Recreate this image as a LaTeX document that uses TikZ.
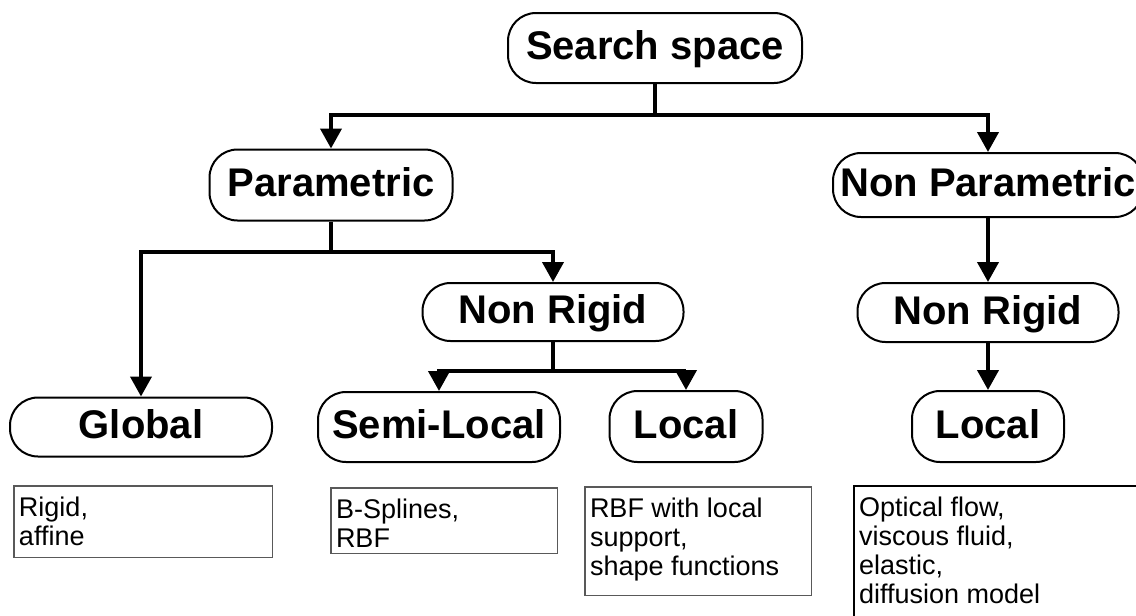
\documentclass[tikz,border=0pt]{standalone}
\usepackage{fontspec}
\setmainfont{Liberation Sans}
\usetikzlibrary{arrows.meta}
\tikzset{
  cat/.style={draw, line width=2pt, rounded corners=28pt, fill=white,
    font=\fontsize{40}{48}\selectfont\bfseries, inner sep=0pt,
    text height=29pt, text depth=6pt},
  link/.style={line width=4pt},
  arr/.style={line width=4pt, -{Triangle[width=21pt,length=20pt]}},
  note/.style={draw=black!65, line width=1.5pt, inner xsep=5pt, inner ysep=10pt,
    anchor=north west, font=\fontsize{27}{29}\selectfont},
}
\newcommand{\notetext}[3]{\parbox[c][#2][t]{#1}{\raggedright\rule{0pt}{20pt}#3}}
\begin{document}
\begin{tikzpicture}[x=1pt,y=-1pt]
\useasboundingbox (0,0) rectangle (1136,616);
\clip (0,0) rectangle (1136,616);

% category boxes
\node[cat, minimum width=294pt, minimum height=70pt] (search) at (655,48) {Search space};
\node[cat, minimum width=243pt, minimum height=71pt] (param) at (331,185) {Parametric};
\node[cat, minimum width=310pt, minimum height=64pt] (nparam) at (988,185) {Non Parametric};
\node[cat, minimum width=261pt, minimum height=58pt] (nrigidA) at (553,312) {Non Rigid};
\node[cat, minimum width=261pt, minimum height=59pt] (nrigidB) at (988,312.5) {Non Rigid};
\node[cat, minimum width=262pt, minimum height=59pt] (global) at (141,427) {Global};
\node[cat, minimum width=242pt, minimum height=70pt] (semi) at (439,427) {Semi-Local};
\node[cat, minimum width=153pt, minimum height=71pt] (localA) at (686,426.5) {Local};
\node[cat, minimum width=152pt, minimum height=71pt] (localB) at (988,426.5) {Local};

% tree connectors
\draw[link] (search.south) -- ++(0,31) coordinate (j1);
\draw[arr] (j1) -| (param.north);
\draw[arr] (j1) -| (nparam.north);
\draw[link] (param.south) -- ++(0,30) coordinate (j2);
\draw[arr] (j2) -| (global.north);
\draw[arr] (j2) -| (nrigidA.north);
\draw[link] (nrigidA.south) -- ++(0,29) coordinate (j3);
\draw[arr] (j3) -| (semi.north);
\draw[arr] (j3) -| (localA.north);
\draw[arr] (nparam.south) -- (nrigidB.north);
\draw[arr] (nrigidB.south) -- (localB.north);

% method notes
\node[note] (n1) at (13.25,485.25) {\notetext{248.5pt}{51.5pt}{Rigid,\\affine}};
\node[note] (n2) at (330.25,487.25) {\notetext{216.5pt}{45.5pt}{B-Splines,\\RBF}};
\node[note] (n3) at (584.25,486.25) {\notetext{216.5pt}{88.5pt}{RBF with local\\support,\\shape functions}};
\node[note, draw=black] (n4) at (853.25,485.25) {\notetext{279.5pt}{117.5pt}{Optical flow,\\viscous fluid,\\elastic,\\diffusion model}};
\end{tikzpicture}
\end{document}
